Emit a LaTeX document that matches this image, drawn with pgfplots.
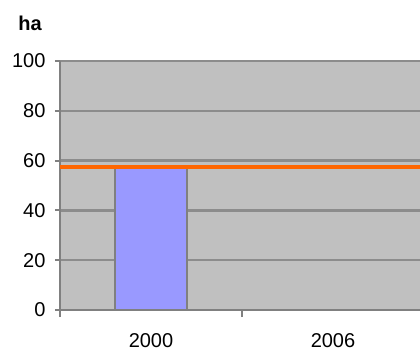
\documentclass[border=0pt]{standalone}
\usepackage{pgfplots}
\pgfplotsset{compat=1.18}
\usepackage{fontspec}
\setmainfont{Liberation Sans}

\definecolor{plotbg}{HTML}{C0C0C0}
\definecolor{gridgray}{HTML}{8C8C8C}
\definecolor{axisgray}{HTML}{808080}
\definecolor{barblue}{HTML}{9999FF}
\definecolor{lineorange}{HTML}{FF6600}

\begin{document}
\begin{tikzpicture}[x=1bp,y=1bp]
\useasboundingbox (0,0) rectangle (420,352);
\begin{axis}[
  at={(60bp,42bp)}, anchor=south west,
  scale only axis,
  width=360bp, height=249bp,
  xmin=-0.5, xmax=1.478,
  ymin=0, ymax=100,
  axis background/.style={fill=plotbg},
  axis x line=bottom, axis y line=left,
  axis line style={axisgray, line width=2.4bp, -},
  ytick={0,20,40,60,80,100},
  ymajorgrids=true,
  grid style={gridgray, line width=2.4bp},
  xtick={0,1},
  xticklabels={2000,2006},
  major x tick style={draw=none},
  minor xtick={-0.5,0.5},
  minor x tick style={axisgray, line width=2bp},
  minor tick length=7bp,
  major tick length=5bp,
  y tick style={axisgray, line width=2bp},
  tick align=outside,
  /pgf/number format/assume math mode=true,
  tick label style={font=\fontsize{20bp}{24bp}\selectfont, text=black},
  xticklabel style={yshift=-15bp},
  yticklabel style={xshift=-6bp},
  clip=false,
]
\addplot[ybar, bar width=72bp, fill=barblue, draw=axisgray, line width=1.5bp]
  coordinates {(0,57)};
\addplot[lineorange, line width=4bp]
  coordinates {(-0.5,57.4) (1.478,57.4)};
\end{axis}
\node[font=\bfseries\fontsize{20bp}{24bp}\selectfont, inner sep=0pt] at (30,329) {ha};
\end{tikzpicture}
\end{document}
